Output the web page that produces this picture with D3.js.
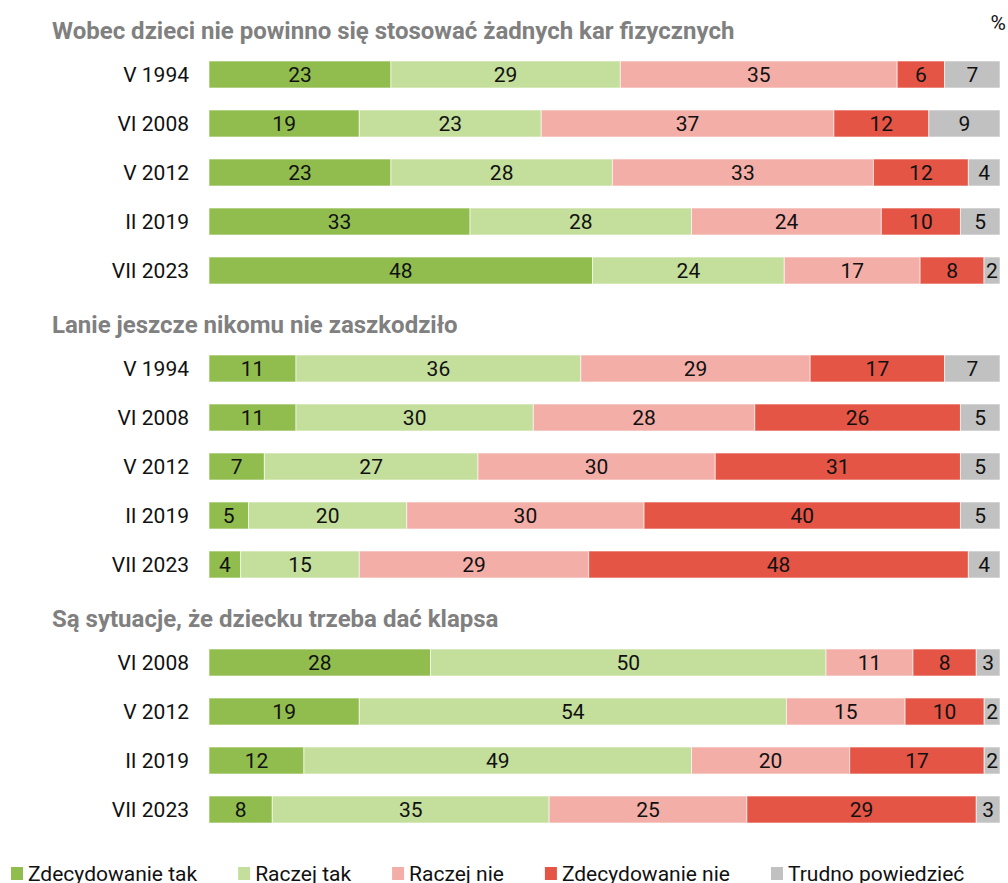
<!DOCTYPE html>
<html>
<head>
<meta charset="utf-8">
<script src="https://cdn.jsdelivr.net/npm/d3@7"></script>
<style>
  body { margin: 0; background: #fff; }
  svg { display: block; font-family: Roboto, "Noto Sans", sans-serif; }
</style>
</head>
<body>
<svg id="chart" width="1008" height="883"></svg>
<script>
// Answer categories, in stacking order.
const categories = ['Zdecydowanie tak', 'Raczej tak', 'Raczej nie',
  'Zdecydowanie nie', 'Trudno powiedzieć'];
const colors = ['#91bd4f', '#c4de9b', '#f3aea7', '#e45546', '#c1c1c1'];

// Statement 1.
const title1 = 'Wobec dzieci nie powinno się stosować żadnych kar fizycznych';
const years1 = ['V 1994', 'VI 2008', 'V 2012', 'II 2019', 'VII 2023'];
const values1 = [
  [23, 29, 35, 6, 7],
  [19, 23, 37, 12, 9],
  [23, 28, 33, 12, 4],
  [33, 28, 24, 10, 5],
  [48, 24, 17, 8, 2],
];

// Statement 2.
const title2 = 'Lanie jeszcze nikomu nie zaszkodziło';
const years2 = ['V 1994', 'VI 2008', 'V 2012', 'II 2019', 'VII 2023'];
const values2 = [
  [11, 36, 29, 17, 7],
  [11, 30, 28, 26, 5],
  [7, 27, 30, 31, 5],
  [5, 20, 30, 40, 5],
  [4, 15, 29, 48, 4],
];

// Statement 3.
const title3 = 'Są sytuacje, że dziecku trzeba dać klapsa';
const years3 = ['VI 2008', 'V 2012', 'II 2019', 'VII 2023'];
const values3 = [
  [28, 50, 11, 8, 3],
  [19, 54, 15, 10, 2],
  [12, 49, 20, 17, 2],
  [8, 35, 25, 29, 3],
];

const groups = [
  {title: title1, years: years1, values: values1},
  {title: title2, years: years2, values: values2},
  {title: title3, years: years3, values: values3},
];

// Flatten into slots: one slot for each title and one for each bar.
const slots = [];
groups.forEach((g, gi) => {
  slots.push({type: 'title', text: g.title, key: 'g' + gi});
  g.years.forEach((y, i) => {
    slots.push({type: 'bar', label: y, values: g.values[i], key: 'g' + gi + y});
  });
});

const svg = d3.select('#chart');
const left = 209;
const right = 1000;
const rowStep = 49;
const gap = 22; // White space between two bars.

const y = d3.scaleBand()
    .domain(slots.map(d => d.key))
    .range([12, 12 + rowStep * slots.length - gap])
    .paddingInner(gap / rowStep)
    .paddingOuter(0)
    .align(0);

// Title rows.
svg.append('g')
    .selectAll('text')
    .data(slots.filter(d => d.type === 'title'))
    .join('text')
    .attr('x', 52)
    .attr('y', d => y(d.key) + y.bandwidth() / 2 + 13.5)
    .attr('fill', '#808080')
    .attr('font-weight', 'bold')
    .attr('font-size', 24)
    .text(d => d.text);

svg.append('text')
    .attr('x', 1006)
    .attr('y', 30)
    .attr('text-anchor', 'end')
    .attr('font-size', 21)
    .attr('fill', '#111')
    .text('%');

const bars = slots.filter(d => d.type === 'bar');
const rows = svg.append('g')
    .selectAll('g')
    .data(bars)
    .join('g')
    .attr('transform', d => `translate(0,${y(d.key)})`);

rows.append('text')
    .attr('x', 189)
    .attr('y', y.bandwidth() / 2)
    .attr('dy', '0.35em')
    .attr('text-anchor', 'end')
    .attr('font-size', 21)
    .attr('fill', '#111')
    .text(d => d.label);

rows.each(function(d) {
  // Each bar spans the full width, scaled to its own total.
  const x = d3.scaleLinear()
      .domain([0, d3.sum(d.values)])
      .range([left, right]);
  let acc = 0;
  const segs = d.values.map((v, i) => {
    const s = {v, i, x0: acc, x1: acc + v};
    acc += v;
    return s;
  });
  const row = d3.select(this);
  row.selectAll('rect')
      .data(segs)
      .join('rect')
      .attr('x', s => x(s.x0))
      .attr('width', s => x(s.x1) - x(s.x0))
      .attr('height', y.bandwidth())
      .attr('fill', s => colors[s.i])
      .attr('stroke', 'rgba(255,255,255,0.6)')
      .attr('stroke-width', 1);
  row.selectAll('text.val')
      .data(segs)
      .join('text')
      .attr('class', 'val')
      .attr('x', s => (x(s.x0) + x(s.x1)) / 2)
      .attr('y', y.bandwidth() / 2)
      .attr('dy', '0.35em')
      .attr('text-anchor', 'middle')
      .attr('font-size', 21)
      .attr('fill', '#111')
      .text(s => s.v);
});

// Legend along the bottom edge.
const legend = svg.append('g').attr('transform', 'translate(11,0)');
let lx = 0;
categories.forEach((c, i) => {
  const item = legend.append('g').attr('transform', `translate(${lx},0)`);
  item.append('rect')
      .attr('x', 0)
      .attr('y', 867)
      .attr('width', 12)
      .attr('height', 13)
      .attr('fill', colors[i]);
  const t = item.append('text')
      .attr('x', 17)
      .attr('y', 881)
      .attr('font-size', 21)
      .attr('fill', '#111')
      .text(c);
  lx += 17 + t.node().getComputedTextLength() + 41;
});
</script>
</body>
</html>
